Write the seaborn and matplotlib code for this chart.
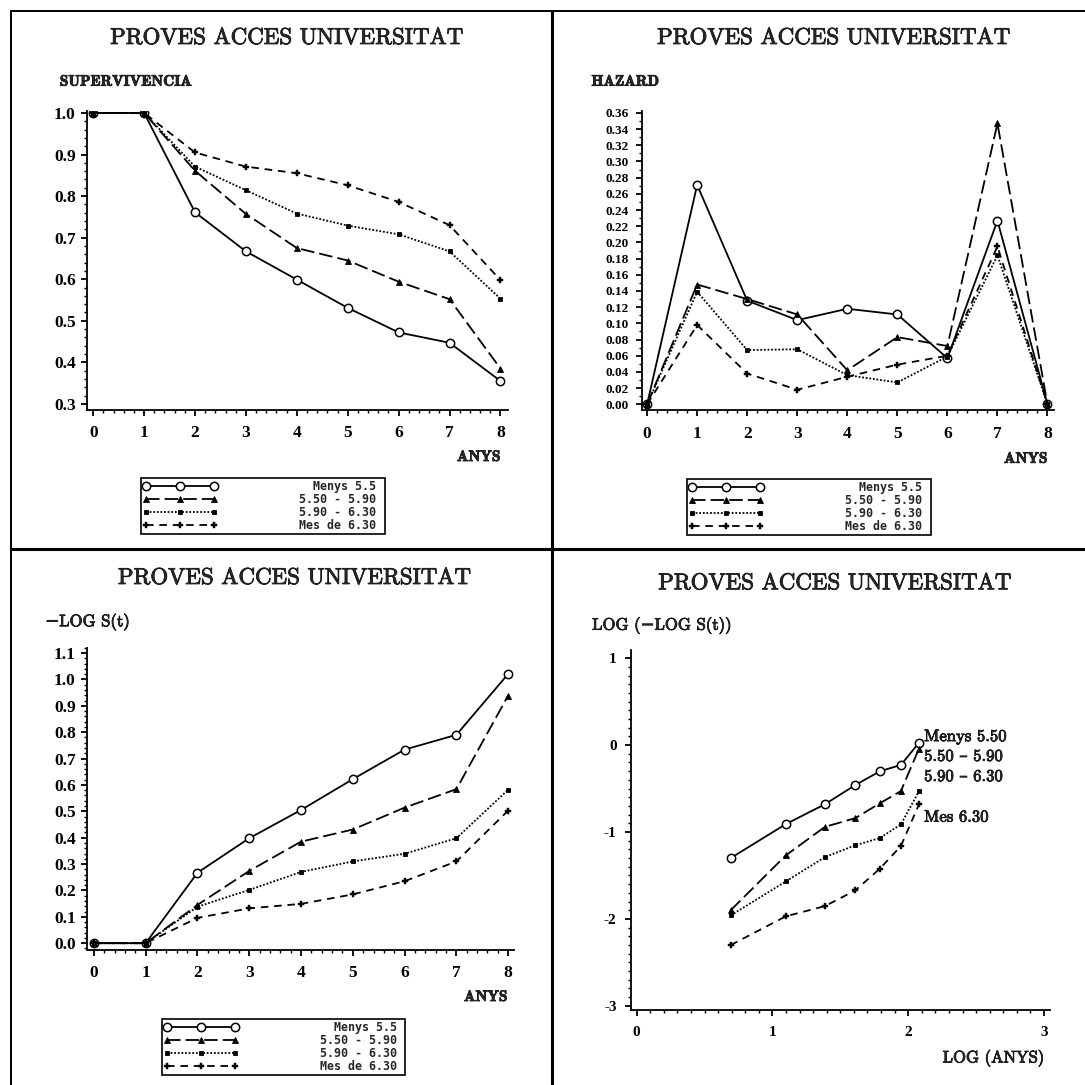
import numpy as np
import pandas as pd
import matplotlib
matplotlib.use("Agg")
import matplotlib.pyplot as plt
import matplotlib.patheffects as pe
import seaborn as sns
from matplotlib.lines import Line2D
from matplotlib.ticker import MultipleLocator, FormatStrFormatter

# ---------------------------------------------------------------- data
grups = ["Menys 5.5", "5.50 - 5.90", "5.90 - 6.30", "Mes de 6.30"]
anys = [0, 1, 2, 3, 4, 5, 6, 7, 8]

# Supervivencia S(t)
surv_menys = [1.0, 1.0, 0.761, 0.667, 0.599, 0.531, 0.472, 0.447, 0.355]
surv_550 = [1.0, 1.0, 0.861, 0.757, 0.675, 0.645, 0.594, 0.552, 0.385]
surv_590 = [1.0, 1.0, 0.871, 0.814, 0.758, 0.729, 0.708, 0.667, 0.553]
surv_mes = [1.0, 1.0, 0.905, 0.871, 0.855, 0.826, 0.786, 0.730, 0.598]

# Hazard
haz_menys = [0.0, 0.271, 0.128, 0.104, 0.118, 0.111, 0.057, 0.227, 0.0]
haz_550 = [0.0, 0.148, 0.130, 0.111, 0.042, 0.083, 0.072, 0.347, 0.0]
haz_590 = [0.0, 0.139, 0.067, 0.068, 0.036, 0.027, 0.059, 0.184, 0.0]
haz_mes = [0.0, 0.098, 0.038, 0.018, 0.034, 0.049, 0.060, 0.195, 0.0]

# -log S(t)
mlog_menys = [0.0, 0.0, 0.267, 0.398, 0.505, 0.622, 0.734, 0.790, 1.021]
mlog_550 = [0.0, 0.0, 0.145, 0.274, 0.385, 0.431, 0.514, 0.584, 0.939]
mlog_590 = [0.0, 0.0, 0.138, 0.202, 0.270, 0.310, 0.339, 0.398, 0.582]
mlog_mes = [0.0, 0.0, 0.096, 0.132, 0.149, 0.185, 0.235, 0.310, 0.503]

# log(-log S(t)) against log(anys), t = 2..8
anys_log = [2, 3, 4, 5, 6, 7, 8]
ll_menys = [-1.30, -0.909, -0.681, -0.461, -0.301, -0.229, 0.028]
ll_550 = [-1.90, -1.269, -0.941, -0.841, -0.669, -0.529, -0.041]
ll_590 = [-1.96, -1.569, -1.289, -1.153, -1.069, -0.913, -0.529]
ll_mes = [-2.301, -1.970, -1.853, -1.673, -1.421, -1.161, -0.681]

etiquetes_final = ["Menys 5.50", "5.50 \u2013 5.90", "5.90 \u2013 6.30", "Mes 6.30"]
etiquetes_final_y = [0.10, -0.128, -0.36, -0.827]

titol = "PROVES ACCES UNIVERSITAT"

# ---------------------------------------------------------------- style
sns.set_style("ticks")
plt.rcParams.update({
    "font.family": ["Liberation Serif", "DejaVu Serif"],
    "font.weight": "bold",
    "axes.unicode_minus": False,
    "axes.linewidth": 1.3,
    "axes.edgecolor": "black",
    "xtick.color": "black",
    "ytick.color": "black",
})

LW = 1.3
estils = {
    "Menys 5.5": dict(linestyle="-", marker="o", markersize=6.0,
                      markerfacecolor="white", markeredgecolor="black",
                      markeredgewidth=1.1),
    "5.50 - 5.90": dict(linestyle=(0, (7.5, 2.8)), marker="^", markersize=3.8,
                        markerfacecolor="black", markeredgecolor="black",
                        markeredgewidth=0.6),
    "5.90 - 6.30": dict(linestyle=(0, (1, 1.0)), marker="s", markersize=3.4,
                        markerfacecolor="black", markeredgecolor="black",
                        markeredgewidth=0.6),
    "Mes de 6.30": dict(linestyle=(0, (4.2, 3.2)), marker="P", markersize=4.4,
                        markerfacecolor="black", markeredgecolor="black",
                        markeredgewidth=0.3),
}

W = H = 1085.0
fig = plt.figure(figsize=(W / 100, H / 100), dpi=100)

# a light stroke gives the thin Computer Modern strokes more weight
gruix = [pe.withStroke(linewidth=0.55, foreground="black")]


def rect(left, right, top, bottom):
    return [left / W, 1 - bottom / H, (right - left) / W, (bottom - top) / H]


def ftext(x, y, s, **kw):
    fig.text(x / W, 1 - y / H, s, **kw)


def dibuixa(ax, x, series):
    for nom, vals in zip(grups, series):
        df = pd.DataFrame({"x": x, "y": vals})
        sns.lineplot(data=df, x="x", y="y", ax=ax, color="black",
                     linewidth=LW, estimator=None, legend=False,
                     **estils[nom])
    ax.set_xlabel("")
    ax.set_ylabel("")
    sns.despine(ax=ax)
    ax.tick_params(which="major", direction="out", length=4.5, width=1.3)
    ax.tick_params(which="minor", direction="out", length=2.5, width=1.0)
    ax.tick_params(axis="x", which="major", pad=7)


def llegenda(ax, left, top):
    handles = [Line2D([], [], color="black", linewidth=LW, **estils[g])
               for g in grups]
    labels = [g.rjust(11) + " " for g in grups]
    leg = ax.legend(handles, labels, loc="upper left",
                    bbox_to_anchor=(left / W, 1 - top / H),
                    bbox_transform=fig.transFigure, borderaxespad=0,
                    numpoints=3, handlelength=6.4, handleheight=0.5,
                    handletextpad=7.0, labelspacing=0.0, borderpad=0.15,
                    frameon=True, fancybox=False, framealpha=1,
                    prop=dict(family="DejaVu Sans Mono", weight="bold",
                              size=8.4))
    fr = leg.get_frame()
    fr.set_edgecolor("black")
    fr.set_linewidth(1.2)


titol_kw = dict(family=["cmr10", "DejaVu Serif"], weight="normal",
                size=16.5, ha="center", va="center", path_effects=gruix)
bold_kw = dict(family=["cmb10", "DejaVu Serif"], weight="bold", size=11,
               path_effects=gruix)
roman_kw = dict(family=["cmr10", "DejaVu Serif"], weight="normal", size=12,
                path_effects=gruix)

# ---------------------------------------------------------------- Supervivencia
ax1 = fig.add_axes(rect(86.9, 507.5, 110.5, 409.5))
dibuixa(ax1, anys, [surv_menys, surv_550, surv_590, surv_mes])
ax1.set_xlim(-0.124, 8.138)
ax1.set_ylim(0.2865, 1.006)
ax1.set_xticks(range(0, 9))
ax1.set_yticks(np.arange(0.3, 1.01, 0.1))
ax1.xaxis.set_minor_locator(MultipleLocator(0.2))
ax1.yaxis.set_minor_locator(MultipleLocator(0.02))
ax1.yaxis.set_major_formatter(FormatStrFormatter("%.1f"))
ax1.tick_params(labelsize=12.5)
llegenda(ax1, 140.8, 478)
ftext(286.8, 38.2, titol, **titol_kw)
ftext(59.8, 81.7, "SUPERVIVENCIA", ha="left", va="center", **bold_kw)
ftext(500.5, 457, "ANYS", ha="right", va="center", **bold_kw)

# ---------------------------------------------------------------- Hazard
ax2 = fig.add_axes(rect(641.8, 1053.8, 110.5, 410.2))
dibuixa(ax2, anys, [haz_menys, haz_550, haz_590, haz_mes])
ax2.set_xlim(-0.106, 8.126)
ax2.set_ylim(-0.0073, 0.363)
ax2.set_xticks(range(0, 9))
ax2.set_yticks(np.arange(0.0, 0.361, 0.02))
ax2.xaxis.set_minor_locator(MultipleLocator(0.2))
ax2.yaxis.set_minor_locator(MultipleLocator(0.01))
ax2.yaxis.set_major_formatter(FormatStrFormatter("%.2f"))
ax2.tick_params(axis="x", labelsize=12.5)
ax2.tick_params(axis="y", labelsize=9.5, pad=5)
llegenda(ax2, 686.7, 479)
ftext(833.8, 38.2, titol, **titol_kw)
ftext(591.4, 81.7, "HAZARD", ha="left", va="center", **bold_kw)
ftext(1047.5, 458.8, "ANYS", ha="right", va="center", **bold_kw)

# ---------------------------------------------------------------- -log S(t)
ax3 = fig.add_axes(rect(86.9, 514.4, 647.8, 949.5))
dibuixa(ax3, anys, [mlog_menys, mlog_550, mlog_590, mlog_mes])
ax3.set_xlim(-0.135, 8.12)
ax3.set_ylim(-0.024, 1.12)
ax3.set_xticks(range(0, 9))
ax3.set_yticks(np.arange(0.0, 1.11, 0.1))
ax3.xaxis.set_minor_locator(MultipleLocator(0.2))
ax3.yaxis.set_minor_locator(MultipleLocator(0.02))
ax3.yaxis.set_major_formatter(FormatStrFormatter("%.1f"))
ax3.tick_params(labelsize=12.5)
llegenda(ax3, 161.6, 1019)
ftext(294.6, 578.2, titol, **titol_kw)
ftext(45.2, 621.7, "\u2212LOG S(t)", ha="left", va="center", **roman_kw)
ftext(507.5, 997, "ANYS", ha="right", va="center", **bold_kw)

# ---------------------------------------------------------------- log(-log S(t))
ax4 = fig.add_axes(rect(631.1, 1050.3, 650, 1010))
dibuixa(ax4, np.log(anys_log), [ll_menys, ll_550, ll_590, ll_mes])
ax4.set_xlim(-0.0405, 3.046)
ax4.set_ylim(-3.048, 1.094)
ax4.set_xticks(range(0, 4))
ax4.set_yticks(range(-3, 2))
ax4.xaxis.set_minor_locator(MultipleLocator(0.1))
ax4.yaxis.set_minor_locator(MultipleLocator(0.1))
ax4.tick_params(labelsize=11)
ax4.tick_params(axis="y", pad=6)
for s, yv in zip(etiquetes_final, etiquetes_final_y):
    ax4.text(2.117, yv, s, ha="left", va="center", **roman_kw)
ftext(834.9, 583.5, titol, **titol_kw)
ftext(592.1, 625.2, "LOG (\u2212LOG S(t))", ha="left", va="center", **roman_kw)
ftext(1044, 1057.9, "LOG (ANYS)", ha="right", va="center", **roman_kw)

# ---------------------------------------------------------------- panel frame
marc = dict(color="black", transform=fig.transFigure)
fig.add_artist(Line2D([11 / W, 1], [1 - 11 / H, 1 - 11 / H], linewidth=1.4, **marc))
fig.add_artist(Line2D([11 / W, 11 / W], [1 - 11 / H, 0], linewidth=1.4, **marc))
fig.add_artist(Line2D([552 / W, 552 / W], [1 - 11 / H, 0], linewidth=2.2, **marc))
fig.add_artist(Line2D([11 / W, 1], [1 - 549 / H, 1 - 549 / H], linewidth=2.2, **marc))

fig.savefig("out.png", dpi=100, facecolor="white")
